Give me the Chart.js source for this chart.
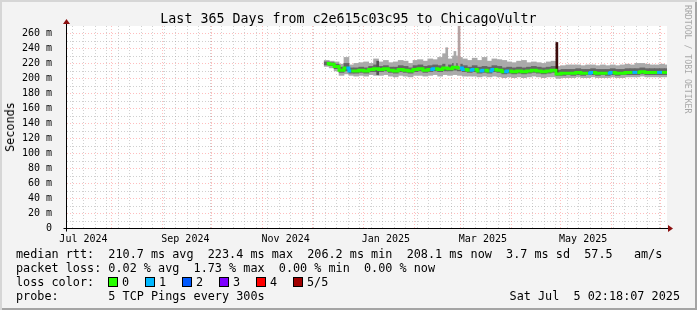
<!DOCTYPE html>
<html>
<head>
<meta charset="utf-8">
<script src="https://cdn.jsdelivr.net/npm/chart.js@4"></script>
<style>
  html, body { margin: 0; padding: 0; }
  body { width: 697px; height: 310px; overflow: hidden; }
  #frame {
    position: relative; width: 697px; height: 310px; background: #f3f3f3;
    box-shadow: inset 2px 2px 0 #d6d6d6, inset -2px -2px 0 #a4a4a4;
    font-family: "DejaVu Sans Mono", monospace; color: #000;
  }
  #chart { position: absolute; left: 0; top: 0; }
  .txt { position: absolute; white-space: pre; font-size: 11.8px; line-height: 14px; }
  #title { position: absolute; left: 0; top: 11px; width: 697px; text-align: center; font-size: 13.3px; line-height: 16px; }
  #ylab { position: absolute; left: 9.5px; top: 127px; transform: translate(-50%, -50%) rotate(-90deg); font-size: 11.8px; white-space: nowrap; }
  #mark { position: absolute; left: 683px; top: 5px; writing-mode: vertical-rl; font-size: 8.2px; color: #a8a8a8; white-space: nowrap; }
  .box { position: absolute; width: 8px; height: 8px; border: 1px solid #000; }
</style>
</head>
<body>
<div id="frame">
  <canvas id="chart" width="697" height="310"></canvas>
  <div id="title">Last 365 Days from c2e615c03c95 to ChicagoVultr</div>
  <div id="ylab">Seconds</div>
  <div id="mark">RRDTOOL / TOBI OETIKER</div>
  <div class="txt" style="left:16px; top:247px">median rtt:  210.7 ms avg  223.4 ms max  206.2 ms min  208.1 ms now  3.7 ms sd  57.5   am/s</div>
  <div class="txt" style="left:16px; top:261px">packet loss: 0.02 % avg  1.73 % max  0.00 % min  0.00 % now</div>
  <div class="txt" style="left:16px; top:275px">loss color:</div>
  <div class="txt" style="left:16px; top:289px">probe:       5 TCP Pings every 300s</div>
  <div class="txt" style="right:17px; top:289px">Sat Jul  5 02:18:07 2025</div>
</div>
<script>
// days since Jul 5 2024 02:18 (start of the 365 day window)
const sampleDay = [158,161,164,167,170,173,176,179,182,185,188,191,194,197,200,203,206,209,212,215,
  218,221,224,227,230,233,236,239,242,245,248,251,254,257,260,263,266,269,272,275,
  278,281,284,287,290,293,296,299,302,305,308,311,314,317,320,323,326,329,332,335,
  338,341,344,347,350,353,356,359,362,365];

// median rtt in ms
const median = [220,219,216,211,214,210,210,211,210,212,213,212,213,211,210,212,211,210,212,213,
  211,212,213,212,214,213,215,214,212,211,212,210,211,210,212,211,209,210,209,210,
  209,210,211,210,209,210,211,206,207,207,207,208,207,207,208,207,207,207,208,207,
  207,208,208,208,209,208,208,208,208,208];

// lost pings per sample (picks the median colour)
const lossCount = [0,0,0,0,1,0,0,0,0,0,0,0,0,0,0,0,0,0,0,0,
  0,1,0,0,0,0,0,1,0,1,0,1,0,1,0,0,1,0,0,0,
  0,0,0,0,0,0,0,0,0,0,0,0,0,1,0,0,0,1,0,0,
  0,0,1,0,0,0,0,1,0,0];

// smoke: full spread of the pings
const smokeLo = [216,214,210,204,206,204,203,204,203,205,204,204,205,203,202,204,203,202,204,204,
  203,204,205,203,205,204,205,204,203,203,203,202,203,202,203,202,201,202,201,202,
  201,202,203,202,201,202,202,200,201,201,201,202,201,201,202,201,201,201,202,201,
  201,202,202,202,203,202,202,202,202,202];
const smokeHi = [224,223,222,219,228,218,220,221,222,220,226,222,224,221,222,224,223,220,224,225,
  223,226,225,228,233,226,230,228,226,224,227,224,228,223,226,225,224,222,221,223,
  224,221,222,221,220,222,223,216,217,218,218,218,217,218,218,217,218,217,218,217,
  218,219,218,220,220,219,218,218,219,218];

// smoke: inner (darker) spread
const coreLo = [218,217,213,208,210,207,207,208,207,209,209,209,210,208,207,209,208,207,209,210,
  208,209,210,209,210,210,211,210,209,208,209,207,208,207,209,208,206,207,206,207,
  206,207,208,207,206,207,208,204,204,205,204,205,204,205,205,204,205,204,205,204,
  205,205,205,205,206,205,205,205,205,205];
const coreHi = [222,221,219,215,220,214,214,215,214,216,218,216,217,215,215,217,216,214,217,218,
  216,217,218,217,219,218,220,219,217,215,217,215,216,215,217,216,214,215,214,215,
  214,215,216,215,214,215,216,211,212,212,212,213,212,212,213,212,212,212,213,212,
  212,213,213,213,214,213,213,213,213,213];

// single-sample outliers
const spikeDay = [189, 231, 236, 238.5, 298];
const spikeLo = [205, 214, 214, 212, 205];
const spikeHi = [223, 241, 236, 270, 248];

const yTicks = [0,20,40,60,80,100,120,140,160,180,200,220,240,260];
const xLabels = ["Jul 2024","Sep 2024","Nov 2024","Jan 2025","Mar 2025","May 2025"];
const xLabelDay = [10, 72, 133, 194, 253, 314];

const lossLabels = ["0","1","2","3","4","5/5"];
const lossColors = ["#26ff00","#00b8ff","#0059ff","#7e00ff","#ff0000","#a00000"];

// loss colour legend
const frame = document.getElementById("frame");
lossLabels.forEach((lab, i) => {
  const b = document.createElement("div");
  b.className = "box";
  b.style.left = (108 + i * 37) + "px";
  b.style.top = "277px";
  b.style.background = lossColors[i];
  frame.appendChild(b);
  const t = document.createElement("div");
  t.className = "txt";
  t.style.left = (122 + i * 37) + "px";
  t.style.top = "275px";
  t.textContent = lab;
  frame.appendChild(t);
});

// grid positions (months red, weeks grey)
const start = Date.UTC(2024, 6, 5, 2, 18, 7);
const dayOf = t => (t - start) / 864e5;
const monthDays = [];
for (let k = 0; k < 12; k++) monthDays.push(dayOf(Date.UTC(2024, 7 + k, 1)));
const weekDays = [];
for (let t = Date.UTC(2024, 6, 8); dayOf(t) < 365; t += 7 * 864e5) weekDays.push(dayOf(t));

const rrdGrid = {
  id: "rrdGrid",
  beforeDatasetsDraw(chart) {
    const { ctx, chartArea: a, scales: { x, y } } = chart;
    ctx.save();
    ctx.fillStyle = "#ffffff";
    ctx.fillRect(a.left, a.top, a.right - a.left, a.bottom - a.top);
    ctx.lineWidth = 1;
    ctx.setLineDash([1, 2]);
    const hline = (v, col) => {
      const p = Math.round(y.getPixelForValue(v)) + 0.5;
      ctx.strokeStyle = col;
      ctx.beginPath(); ctx.moveTo(a.left, p); ctx.lineTo(a.right, p); ctx.stroke();
    };
    const vline = (d, col) => {
      const p = Math.round(x.getPixelForValue(d)) + 0.5;
      ctx.strokeStyle = col;
      ctx.beginPath(); ctx.moveTo(p, a.top); ctx.lineTo(p, a.bottom); ctx.stroke();
    };
    for (let v = 10; v <= 260; v += 20) hline(v, "rgba(150,150,150,0.45)");
    weekDays.forEach(d => vline(d, "rgba(150,150,150,0.45)"));
    for (let v = 20; v <= 260; v += 20) hline(v, "rgba(255,70,70,0.35)");
    monthDays.forEach(d => vline(d, "rgba(255,70,70,0.35)"));
    ctx.restore();
  },
  afterDatasetsDraw(chart) {
    const { ctx, chartArea: a } = chart;
    ctx.save();
    ctx.strokeStyle = "#000";
    ctx.lineWidth = 1;
    const ax = Math.round(a.left) - 0.5, ay = Math.round(a.bottom) + 0.5;
    ctx.beginPath();
    ctx.moveTo(ax, ay + 3); ctx.lineTo(ax, a.top - 4);
    ctx.moveTo(ax - 3, ay); ctx.lineTo(a.right + 4, ay);
    ctx.stroke();
    ctx.fillStyle = "#8b1010";
    ctx.beginPath();
    ctx.moveTo(ax - 3.5, a.top - 2); ctx.lineTo(ax + 3.5, a.top - 2); ctx.lineTo(ax, a.top - 7); ctx.closePath();
    ctx.fill();
    ctx.beginPath();
    ctx.moveTo(a.right + 1, ay - 3.5); ctx.lineTo(a.right + 1, ay + 3.5); ctx.lineTo(a.right + 6, ay); ctx.closePath();
    ctx.fill();
    ctx.restore();
  }
};

const mono = { family: "DejaVu Sans Mono", size: 10 };

new Chart(document.getElementById("chart"), {
  type: "bar",
  data: {
    datasets: [
      {
        type: "line",
        data: sampleDay.map((d, i) => ({ x: d, y: median[i] })),
        borderWidth: 3,
        stepped: "middle",
        pointRadius: 0,
        segment: { borderColor: c => lossColors[lossCount[c.p0DataIndex]] },
        borderColor: lossColors[0],
        order: 0
      },
      {
        data: spikeDay.map((d, i) => ({ x: d, y: [spikeLo[i], spikeHi[i]] })),
        backgroundColor: ["#555555", "#a8a8a8", "#a8a8a8", "#b2a2a2", "#3c0c0c"],
        barThickness: 2,
        grouped: false,
        order: 1
      },
      {
        data: sampleDay.map((d, i) => ({ x: d, y: [coreLo[i], coreHi[i]] })),
        backgroundColor: "#666666",
        barThickness: 5,
        grouped: false,
        order: 2
      },
      {
        data: sampleDay.map((d, i) => ({ x: d, y: [smokeLo[i], smokeHi[i]] })),
        backgroundColor: "#aaaaaa",
        barThickness: 5,
        grouped: false,
        order: 3
      }
    ]
  },
  options: {
    responsive: false,
    animation: false,
    events: [],
    layout: { padding: { top: 26, right: 30, left: 0, bottom: 0 } },
    plugins: { legend: { display: false }, tooltip: { enabled: false } },
    scales: {
      x: {
        type: "linear",
        min: 0,
        max: 365,
        offset: false,
        afterBuildTicks: s => { s.ticks = xLabelDay.map(v => ({ value: v })); },
        afterFit: s => { s.height = 82; },
        ticks: {
          callback: (v, i) => xLabels[i],
          autoSkip: false,
          maxRotation: 0,
          font: mono,
          color: "#000",
          padding: -3
        },
        grid: { display: false, offset: false },
        border: { display: false }
      },
      y: {
        type: "linear",
        min: 0,
        max: 270,
        afterBuildTicks: s => { s.ticks = yTicks.map(v => ({ value: v })); },
        afterFit: s => { s.width = 67; },
        ticks: {
          callback: v => (v === 0 ? "0" : v + " m"),
          font: mono,
          color: "#000",
          padding: 7
        },
        grid: { display: false },
        border: { display: false }
      }
    }
  },
  plugins: [rrdGrid]
});
</script>
</body>
</html>
